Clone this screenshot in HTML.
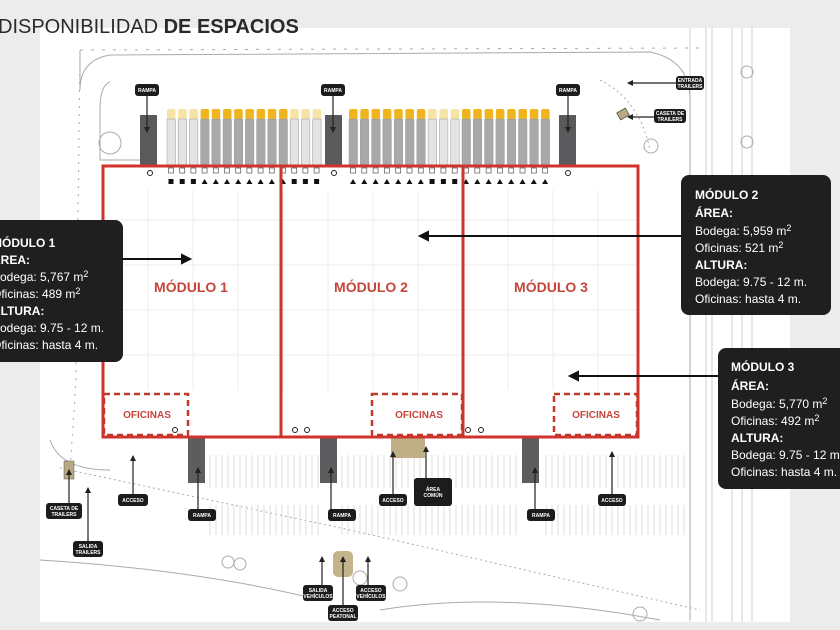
<!DOCTYPE html>
<html><head><meta charset="utf-8"><style>
html,body{margin:0;padding:0;width:840px;height:630px;overflow:hidden;background:#e9e9ea;font-family:"Liberation Sans",sans-serif}
svg{position:absolute;left:0;top:0}
.t{font-family:"Liberation Sans",sans-serif}
</style></head><body>
<svg id="s" width="840" height="630" viewBox="0 0 840 630" xmlns="http://www.w3.org/2000/svg">
<defs><marker id="a" markerWidth="6" markerHeight="6" refX="5" refY="3" orient="auto" markerUnits="userSpaceOnUse"><path d="M0 0 L6 3 L0 6z" fill="#222"/></marker></defs>
<rect x="0" y="0" width="840" height="630" fill="#ececed"/>
<rect x="40" y="28" width="750" height="594" fill="#fff"/>
<g stroke="#cfcfcf" stroke-width="1">
<line x1="706" y1="28" x2="706" y2="622"/><line x1="712" y1="28" x2="712" y2="622"/>
<line x1="732" y1="28" x2="732" y2="622"/><line x1="742" y1="28" x2="742" y2="622"/>
<line x1="752" y1="28" x2="752" y2="622"/><line x1="690" y1="28" x2="690" y2="622"/>
</g>
<g stroke="#aaa" fill="none" stroke-width="1">
<path d="M80 50 L700 48" stroke-dasharray="3 8"/>
<path d="M80 50 L80 90 Q80 60 110 55 L650 52 Q690 60 690 100 L690 620"/>
<path d="M80 50 L76 380 L70 470" stroke-dasharray="2 6"/>
<path d="M50 440 Q60 470 110 470"/>
<path d="M60 468 L350 530 L700 610" stroke-dasharray="2 3"/>
<path d="M600 80 Q640 100 650 150" stroke-dasharray="2 3"/>
<path d="M110 82 Q100 85 100 110 L100 160 L140 160"/>
<path d="M40 560 Q200 570 320 600"/><path d="M380 610 Q500 590 660 620"/>
</g>
<g fill="none" stroke="#aaa"><circle cx="110" cy="143" r="11"/><circle cx="228" cy="562" r="6"/><circle cx="240" cy="564" r="6"/><circle cx="360" cy="578" r="7"/><circle cx="400" cy="584" r="7"/><circle cx="640" cy="614" r="7"/><circle cx="651" cy="146" r="7"/><circle cx="747" cy="72" r="6"/><circle cx="747" cy="142" r="6"/></g>
<g id="docks"></g>
<g fill="#5a5a5c"><rect x="140" y="115" width="17" height="52"/><rect x="325" y="115" width="17" height="52"/><rect x="559" y="115" width="17" height="52"/></g>
<g id="park" stroke="#dcdcdc" stroke-width="1"></g>
<g fill="#5d5d60"><rect x="188" y="438" width="17" height="45"/><rect x="320" y="438" width="17" height="45"/><rect x="522" y="438" width="17" height="45"/></g>
<rect x="391" y="437" width="34" height="21" fill="#bfae86"/>
<rect x="64" y="461" width="10" height="18" fill="#b9a980" stroke="#555" stroke-width=".5"/>
<rect x="618" y="110" width="10" height="8" fill="#b9a980" stroke="#333" stroke-width=".6" transform="rotate(-30 623 114)"/>
<rect x="333" y="551" width="20" height="26" rx="5" fill="#c4b48a"/>
<g id="grid" stroke="#eeeeee" stroke-width="1"></g>
<g fill="none" stroke="#d0322c" stroke-width="3">
<rect x="103" y="166" width="535" height="271"/>
<line x1="281" y1="166" x2="281" y2="437"/><line x1="463" y1="166" x2="463" y2="437"/>
</g>
<g fill="none" stroke="#c0392b" stroke-width="2.5" stroke-dasharray="6 4">
<rect x="104" y="394" width="84" height="41"/><rect x="372" y="394" width="90" height="41"/><rect x="554" y="394" width="83" height="41"/>
</g>
<g fill="#c6453a" font-weight="bold" class="t" text-anchor="middle">
<text x="191" y="292" font-size="14">MÓDULO 1</text>
<text x="371" y="292" font-size="14">MÓDULO 2</text>
<text x="551" y="292" font-size="14">MÓDULO 3</text>
<text x="147" y="418" font-size="10">OFICINAS</text>
<text x="419" y="418" font-size="10">OFICINAS</text>
<text x="596" y="418" font-size="10">OFICINAS</text>
</g>
<g fill="none" stroke="#222"><circle cx="150" cy="173" r="2.5"/><circle cx="334" cy="173" r="2.5"/><circle cx="568" cy="173" r="2.5"/><circle cx="175" cy="430" r="2.5"/><circle cx="295" cy="430" r="2.5"/><circle cx="307" cy="430" r="2.5"/><circle cx="468" cy="430" r="2.5"/><circle cx="481" cy="430" r="2.5"/></g>
<g stroke="#222" stroke-width="1.2" marker-end="url(#a)">
<line x1="147" y1="96" x2="147" y2="132"/><line x1="333" y1="96" x2="333" y2="132"/><line x1="568" y1="96" x2="568" y2="132"/>
<line x1="133" y1="494" x2="133" y2="456"/><line x1="198" y1="509" x2="198" y2="468"/><line x1="331" y1="509" x2="331" y2="468"/>
<line x1="393" y1="494" x2="393" y2="452"/><line x1="426" y1="478" x2="426" y2="447"/><line x1="535" y1="509" x2="535" y2="468"/><line x1="612" y1="494" x2="612" y2="452"/>
<line x1="69" y1="504" x2="69" y2="470"/><line x1="88" y1="543" x2="88" y2="488"/>
<line x1="322" y1="586" x2="322" y2="557"/><line x1="343" y1="606" x2="343" y2="557"/><line x1="368" y1="586" x2="368" y2="557"/>
<line x1="676" y1="83" x2="628" y2="83"/><line x1="655" y1="117" x2="628" y2="117"/>
</g>
<rect x="-10" y="220" width="133" height="142" rx="8" fill="#1f1f1f"/>
<rect x="681" y="175" width="150" height="140" rx="8" fill="#1f1f1f"/>
<rect x="718" y="348" width="140" height="141" rx="8" fill="#1f1f1f"/>
<g stroke="#111" stroke-width="2" fill="#111">
<line x1="122" y1="259" x2="184" y2="259"/><path d="M190 259 l-8 -4 v8z"/>
<line x1="681" y1="236" x2="426" y2="236"/><path d="M420 236 l8 -4 v8z"/>
<line x1="718" y1="376" x2="576" y2="376"/><path d="M570 376 l8 -4 v8z"/>
</g>
<g fill="#fff" class="t" font-size="12">
<text x="-8" y="247" font-weight="bold">MÓDULO 1</text>
<text x="-8" y="264" font-weight="bold">ÁREA:</text>
<text x="-8" y="281">Bodega: 5,767 m<tspan dy="-4" font-size="9">2</tspan></text>
<text x="-8" y="298">Oficinas: 489 m<tspan dy="-4" font-size="9">2</tspan></text>
<text x="-8" y="315" font-weight="bold">ALTURA:</text>
<text x="-8" y="332">Bodega: 9.75 - 12 m.</text>
<text x="-8" y="349">Oficinas: hasta 4 m.</text>
<text x="695" y="199" font-weight="bold">MÓDULO 2</text>
<text x="695" y="217" font-weight="bold">ÁREA:</text>
<text x="695" y="235">Bodega: 5,959 m<tspan dy="-4" font-size="9">2</tspan></text>
<text x="695" y="252">Oficinas: 521 m<tspan dy="-4" font-size="9">2</tspan></text>
<text x="695" y="269" font-weight="bold">ALTURA:</text>
<text x="695" y="286">Bodega: 9.75 - 12 m.</text>
<text x="695" y="303">Oficinas: hasta 4 m.</text>
<text x="731" y="371" font-weight="bold">MÓDULO 3</text>
<text x="731" y="390" font-weight="bold">ÁREA:</text>
<text x="731" y="408">Bodega: 5,770 m<tspan dy="-4" font-size="9">2</tspan></text>
<text x="731" y="425">Oficinas: 492 m<tspan dy="-4" font-size="9">2</tspan></text>
<text x="731" y="442" font-weight="bold">ALTURA:</text>
<text x="731" y="459">Bodega: 9.75 - 12 m.</text>
<text x="731" y="476">Oficinas: hasta 4 m.</text>
</g>
<g id="lbl"></g>
<text x="-2" y="33" class="t" font-size="20" fill="#2a2a2a">DISPONIBILIDAD <tspan font-weight="bold">DE ESPACIOS</tspan></text>
</svg>
<script>
var NS="http://www.w3.org/2000/svg";
function el(p,t,a){var e=document.createElementNS(NS,t);for(var k in a)e.setAttribute(k,a[k]);p.appendChild(e);return e;}
var d=document.getElementById("docks");
function grp(x0,pitch,pattern){for(var i=0;i<pattern.length;i++){var x=x0+i*pitch,y=pattern[i]=='y';
el(d,"rect",{x:x,y:109,width:8.5,height:10,rx:2,fill:y?"#f0b41c":"#f7e3a6"});
el(d,"rect",{x:x,y:119,width:8.5,height:47,fill:y?"#a9a9ab":"#e4e4e5",stroke:"#999","stroke-width":.5});
el(d,"rect",{x:x+1.5,y:168,width:5,height:5,fill:"none",stroke:"#555","stroke-width":.7});
if(y)el(d,"path",{d:"M"+(x+1)+" 184 l3 -5 l3 5z",fill:"#111"});else el(d,"rect",{x:x+1.5,y:179,width:5,height:5,fill:"#111"});}}
grp(167,11.2,"pppyyyyyyyyppp");grp(349,11.3,"yyyyyyypppyyyyyyyy");
var g=document.getElementById("grid");
for(var x=148;x<638;x+=45)el(g,"line",{x1:x,y1:190,x2:x,y2:390});
for(var y=220;y<395;y+=45)el(g,"line",{x1:105,y1:y,x2:636,y2:y});
var p=document.getElementById("park");
for(var x=210;x<690;x+=6){if((x>186&&x<208)||(x>318&&x<340)||(x>520&&x<542))continue;el(p,"line",{x1:x,y1:455,x2:x,y2:488});el(p,"line",{x1:x,y1:505,x2:x,y2:535});}
var L=document.getElementById("lbl");
function lab(cx,cy,w,h,lines){el(L,"rect",{x:cx-w/2,y:cy-h/2,width:w,height:h,rx:3,fill:"#1c1c1c"});
for(var i=0;i<lines.length;i++){var t=el(L,"text",{x:cx,y:cy-(lines.length-1)*3+i*6+1.8,"font-size":5,"font-weight":"bold",fill:"#fff","text-anchor":"middle","font-family":"Liberation Sans"});t.textContent=lines[i];}}
lab(147,90,24,12,["RAMPA"]);lab(333,90,24,12,["RAMPA"]);lab(568,90,24,12,["RAMPA"]);
lab(690,83,28,14,["ENTRADA","TRAILERS"]);lab(670,116,32,14,["CASETA DE","TRAILERS"]);
lab(133,500,30,12,["ACCESO"]);lab(202,515,28,12,["RAMPA"]);lab(342,515,28,12,["RAMPA"]);
lab(393,500,28,12,["ACCESO"]);lab(433,492,38,28,["ÁREA","COMÚN"]);lab(541,515,28,12,["RAMPA"]);lab(612,500,28,12,["ACCESO"]);
lab(64,511,36,16,["CASETA DE","TRAILERS"]);lab(88,549,30,16,["SALIDA","TRAILERS"]);
lab(318,593,30,16,["SALIDA","VEHÍCULOS"]);lab(371,593,30,16,["ACCESO","VEHÍCULOS"]);lab(343,613,30,16,["ACCESO","PEATONAL"]);
</script>
</body></html>
